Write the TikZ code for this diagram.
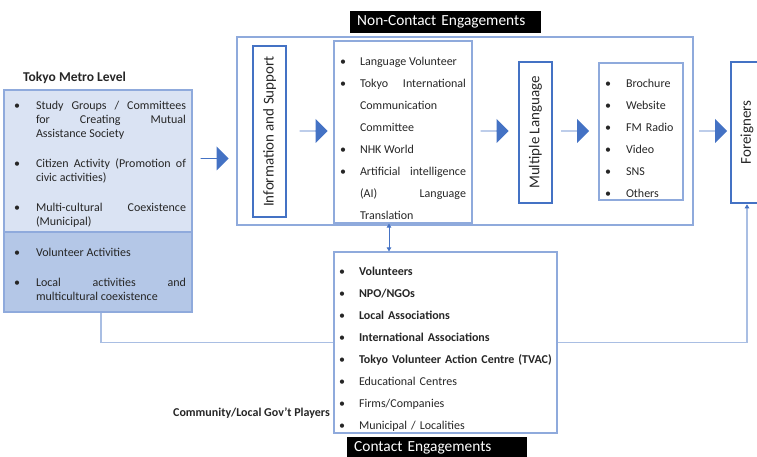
\documentclass[tikz,border=0pt]{standalone}
\usepackage{fontspec}
\setmainfont{Carlito}
\usepackage{enumitem}
\usetikzlibrary{arrows.meta,positioning,shapes.arrows}
\definecolor{darkblue}{HTML}{4472C4}
\definecolor{lineblue}{HTML}{8FAADC}
\definecolor{paleblue}{HTML}{DAE3F3}
\definecolor{midblue}{HTML}{B4C7E7}
\definecolor{linkblue}{HTML}{A9BEE3}
\setlist[itemize]{label=\textbullet, topsep=0pt, partopsep=0pt, parsep=0pt, itemsep=0pt}
\newcommand{\nobreaks}{\hyphenpenalty=10000 \exhyphenpenalty=10000 }

\begin{document}
\begin{tikzpicture}[x=1pt, y=-1pt,
  every node/.style={text=black!85},
  frame/.style={draw=lineblue, line width=1.2pt, inner sep=0pt},
  listbox/.style={draw=lineblue, line width=1.2pt, inner xsep=4pt, inner ysep=0pt, align=justify,
                  font=\fontsize{12}{22}\selectfont\nobreaks},
  metro/.style={draw=lineblue, line width=1.2pt, inner xsep=6pt, inner ysep=0pt, align=justify,
                text width=176pt, font=\fontsize{12}{14}\selectfont\nobreaks},
  tallbox/.style={draw=darkblue, line width=2.6pt, rotate=90, inner sep=0pt,
                  font=\fontsize{15}{18}\selectfont},
  tag/.style={fill=black, text=white, anchor=north west, inner xsep=7pt, inner ysep=0pt,
              minimum height=22pt, align=left, font=\fontsize{15.4}{18}\selectfont},
  blk/.style={single arrow, fill=darkblue, draw=none, inner sep=0pt, minimum height=28pt,
              minimum width=24pt, single arrow head extend=5.5pt},
  link/.style={draw=linkblue, line width=1.2pt},
  dbl/.style={{Triangle[length=4pt,width=4.5pt]}-{Triangle[length=4pt,width=4.5pt]},
              draw=darkblue, line width=0.8pt}
]
\useasboundingbox (0,0) rectangle (757,457);
\clip (0,0) rectangle (757,457);

\node[tag, text width=177pt] (ncTag) at (350,11) {Non-Contact Engagements};
\node[frame, minimum width=456pt, minimum height=188pt] (nc) at (465,131) {};
\node[tallbox, minimum width=171pt, minimum height=33pt] (info) at (269.5,131.5) {Information and Support};
\node[listbox, text width=126pt, inner xsep=6pt, minimum height=182pt] (media) at (403,132) {%
  \begin{itemize}[leftmargin=20pt, labelsep=14pt]
  \item Language Volunteer
  \item Tokyo International\linebreak Communication\newline Committee
  \item NHK World
  \item Artificial intelligence\linebreak (AI) Language\linebreak Translation
  \end{itemize}};
\node[tallbox, minimum width=141pt, minimum height=33pt] (multi) at (535.5,132.5) {Multiple Language};
\node[listbox, text width=76pt, minimum height=137pt, align=left] (channel) at (641,131.5) {%
  \begin{itemize}[leftmargin=23pt, labelsep=15pt]
  \item Brochure
  \item Website
  \item FM Radio
  \item Video
  \item SNS
  \item Others
  \end{itemize}};
\node[tallbox, minimum width=141pt, minimum height=32pt] (foreign) at (747,132.5) {Foreigners};

\node[font=\fontsize{13.5}{15}\selectfont\bfseries, anchor=west, inner sep=0pt] (metroTitle) at (23,78) {Tokyo Metro Level};
\node[metro, fill=paleblue, minimum height=142pt] (metroA) at (98,161) {%
  \begin{itemize}[leftmargin=26pt, labelsep=16pt, itemsep=16pt]
  \item Study Groups / Committees\linebreak for Creating Mutual\linebreak Assistance Society
  \item Citizen Activity (Promotion of\linebreak civic activities)
  \item Multi-cultural Coexistence\linebreak (Municipal)
  \end{itemize}};
\node[metro, fill=midblue, minimum height=80pt] (metroB) at (98,272) {%
  \begin{itemize}[leftmargin=26pt, labelsep=16pt, itemsep=16pt]
  \item Volunteer Activities
  \item Local activities and\linebreak multicultural coexistence
  \end{itemize}};

\node[listbox, text width=215pt, minimum height=181pt, align=left] (contact) at (445.5,342.5) {%
  \begin{itemize}[leftmargin=21pt, labelsep=14pt]
  \item \textbf{Volunteers}
  \item \textbf{NPO/NGOs}
  \item \textbf{Local Associations}
  \item \textbf{International Associations}
  \item \textbf{Tokyo Volunteer Action Centre (TVAC)}
  \item Educational Centres
  \item Firms/Companies
  \item Municipal / Localities
  \end{itemize}};
\node[font=\fontsize{12}{14}\selectfont\bfseries, anchor=east, inner sep=0pt] (players) at (330,413) {Community/Local Gov’t Players};
\node[tag, text width=166pt] (ceTag) at (347,437) {Contact Engagements};

\node[blk] (a1) at (214.5,158.5) {};
\node[blk] (a2) at (313.5,131) {};
\node[blk] (a3) at (494.5,131) {};
\node[blk] (a4) at (575,131) {};
\node[blk] (a5) at (713,131) {};

\draw[link] ([xshift=3pt]metroB.south) |- (contact.west);
\draw[link, -{Triangle[length=4pt,width=4.5pt,color=darkblue]}] (contact.east) -| (foreign.west);
\draw[dbl] ([xshift=-14pt]media.south) -- ([xshift=-14pt]media.south |- contact.north);
\end{tikzpicture}
\end{document}
